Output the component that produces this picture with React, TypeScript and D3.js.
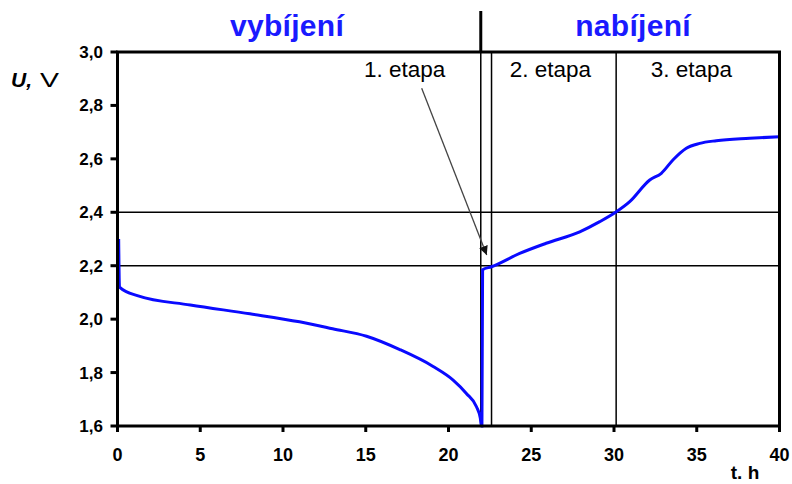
import React from "react";
import * as d3 from "d3";

const times = [0.07, 0.12, 1.25, 4.4, 8, 11.0, 13, 15.05, 17.06, 19.07, 20.28, 21.08, 21.69, 21.92, 21.99, 22.02, 22.06, 22.6, 24.3, 25.9, 27.93, 29.14, 30.14, 30.95, 32.16, 32.86, 33.56, 34.37, 35.18, 36.18, 38.2, 40];
const volts = [2.3, 2.12, 2.087, 2.053, 2.02, 1.99, 1.964, 1.936, 1.886, 1.823, 1.772, 1.722, 1.672, 1.63, 1.6, 1.6, 2.185, 2.196, 2.246, 2.284, 2.327, 2.365, 2.402, 2.44, 2.521, 2.546, 2.596, 2.64, 2.658, 2.668, 2.677, 2.683];

const xTicks = [0, 5, 10, 15, 20, 25, 30, 35, 40];
const yTicks = [1.6, 1.8, 2.0, 2.2, 2.4, 2.6, 2.8, 3.0];
const hLines = [2.2, 2.4];
const vLines = [21.95, 22.6, 30.13];
const dividerT = 21.95;
const phaseTitles = [
  { label: "vybíjení", t: 10.24 },
  { label: "nabíjení", t: 31.15 },
];
const stageLabels = [
  { label: "1. etapa", t: 17.35 },
  { label: "2. etapa", t: 26.16 },
  { label: "3. etapa", t: 34.68 },
];
const arrowFrom = { t: 18.38, v: 2.864 };
const arrowTo = { t: 22.31, v: 2.24 };

const fmt = (v: number) => v.toFixed(1).replace(".", ",");

export default function App() {
  const x = d3.scaleLinear().domain([0, 40]).range([117.5, 779.5]);
  const y = d3.scaleLinear().domain([1.6, 3.0]).range([426, 52]);
  const pts = times.map((t, i) => [t, volts[i]] as [number, number]);
  const line = d3
    .line<[number, number]>()
    .x((d) => x(d[0]))
    .y((d) => y(d[1]))
    .curve(d3.curveMonotoneX);
  const font = "Arial, 'Liberation Sans', sans-serif";
  const ax = x(arrowFrom.t), ay = y(arrowFrom.v);
  const bx = x(arrowTo.t), by = y(arrowTo.v);
  return (
    <svg width={792} height={484} style={{ position: "absolute", left: 0, top: 0 }} fontFamily={font}>
      <defs>
        <marker id="ah" viewBox="0 0 10 10" refX="10" refY="5" markerWidth="9" markerHeight="9" orient="auto" markerUnits="userSpaceOnUse">
          <path d="M0,0 L10,5 L0,10 z" fill="#111" />
        </marker>
      </defs>
      <rect x={0} y={0} width={792} height={484} fill="#fff" />
      {phaseTitles.map((p) => (
        <text key={p.label} x={x(p.t)} y={36} textAnchor="middle" fontSize={30} fontWeight="bold" fill="#1a1aff" letterSpacing={0.3}>
          {p.label}
        </text>
      ))}
      <line x1={x(dividerT)} x2={x(dividerT)} y1={11} y2={52} stroke="#000" strokeWidth={3} />
      {hLines.map((v) => (
        <line key={v} x1={x(0)} x2={x(40)} y1={y(v)} y2={y(v)} stroke="#000" strokeWidth={1.5} />
      ))}
      {vLines.map((t) => (
        <line key={t} x1={x(t)} x2={x(t)} y1={y(3)} y2={y(1.6)} stroke="#000" strokeWidth={1.5} />
      ))}
      {stageLabels.map((s) => (
        <text key={s.label} x={x(s.t)} y={77} textAnchor="middle" fontSize={22.5} fill="#000">
          {s.label}
        </text>
      ))}
      <line x1={ax} y1={ay} x2={bx} y2={by} stroke="#444" strokeWidth={1.3} markerEnd="url(#ah)" />
      <path d={line(pts) || ""} fill="none" stroke="#0a0aff" strokeWidth={3} />
      <rect x={x(0)} y={y(3)} width={x(40) - x(0)} height={y(1.6) - y(3)} fill="none" stroke="#000" strokeWidth={3} />
      {yTicks.map((v) => (
        <g key={v}>
          <line x1={x(0) - 7} x2={x(0)} y1={y(v)} y2={y(v)} stroke="#000" strokeWidth={3} />
          <text x={103} y={y(v) + 6} textAnchor="end" fontSize={17} fontWeight="bold" fill="#000">
            {fmt(v)}
          </text>
        </g>
      ))}
      {xTicks.map((t) => (
        <g key={t}>
          <line x1={x(t)} x2={x(t)} y1={y(1.6)} y2={y(1.6) + 6} stroke="#000" strokeWidth={3} />
          <text x={x(t)} y={461} textAnchor="middle" fontSize={18} fontWeight="bold" fill="#000">
            {t}
          </text>
        </g>
      ))}
      <text x={11} y={87} fontSize={21} fill="#000">
        <tspan fontWeight="bold" fontStyle="italic">U,</tspan>
      </text>
      <text x={40} y={87} fontSize={21} fill="#000" textLength={19} lengthAdjust="spacingAndGlyphs">
        V
      </text>
      <text x={745} y={479} textAnchor="middle" fontSize={19} fontWeight="bold" fill="#000">
        t. h
      </text>
    </svg>
  );
}
